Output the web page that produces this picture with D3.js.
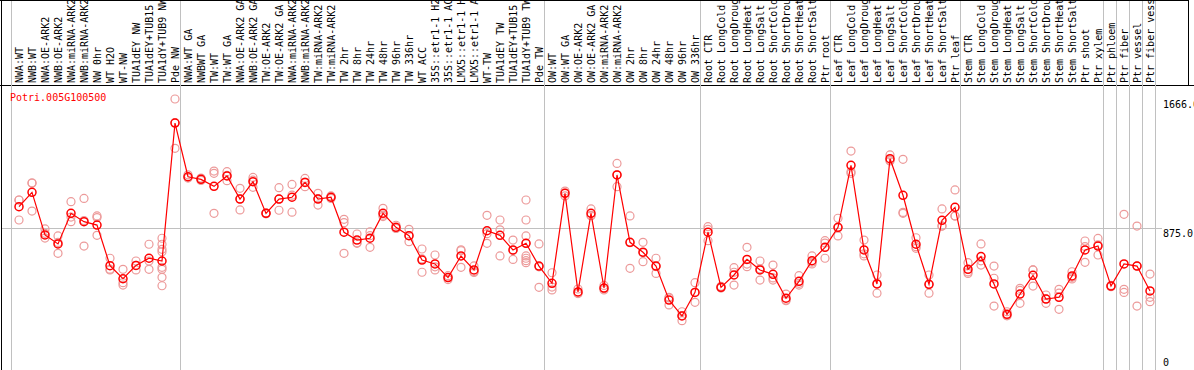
<!DOCTYPE html>
<html>
<head>
  <title>Potri.005G100500</title>
  <script src="https://cdn.jsdelivr.net/npm/d3@7"></script>
  <style>
    body { margin: 0; background: #fff; }
    svg { display: block; }
    text { font-family: "DejaVu Sans Mono", monospace; font-size: 10px; }
  </style>
</head>
<body>
  <div id="chart"></div>
  <script>
    const geneName = "Potri.005G100500";

    const samples = [
      "NWA:WT", "NWB:WT", "NWA:OE-ARK2", "NWB:OE-ARK2", "NWA:miRNA-ARK2", "NWB:miRNA-ARK2",
      "NW 0hr", "WT H2O", "WT-NW", "TUA1dEY NW", "TUA1dEY+TUB15 NW", "TUA1dY+TUB9 NW", "Pde NW",
      "NWA:WT GA", "NWBWT GA", "TW:WT", "TW:WT GA", "NWA:OE-ARK2 GA", "NWB:OE-ARK2 GA",
      "TW:OE-ARK2", "TW:OE-ARK2 GA", "NWA:miRNA-ARK2", "NWB:miRNA-ARK2", "TW:miRNA-ARK2",
      "TW:miRNA-ARK2", "TW 2hr", "TW 8hr", "TW 24hr", "TW 48hr", "TW 96hr", "TW 336hr",
      "WT ACC", "35S::etr1-1 H2O", "35S::etr1-1 ACC", "LMX5::etr1-1 H2O", "LMX5::etr1-1 ACC",
      "WT-TW", "TUA1dEY TW", "TUA1dEY+TUB15 TW", "TUA1dY+TUB9 TW", "Pde TW",
      "OW:WT", "OW:WT GA", "OW:OE-ARK2", "OW:OE-ARK2 GA", "OW:miRNA-ARK2", "OW:miRNA-ARK2",
      "OW 2hr", "OW 8hr", "OW 24hr", "OW 48hr", "OW 96hr", "OW 336hr",
      "Root CTR", "Root LongCold", "Root LongDrought", "Root LongHeat", "Root LongSalt",
      "Root ShortCold", "Root ShortDrought", "Root ShortHeat", "Root ShortSalt", "Ptr root",
      "Leaf CTR", "Leaf LongCold", "Leaf LongDrought", "Leaf LongHeat", "Leaf LongSalt",
      "Leaf ShortCold", "Leaf ShortDrought", "Leaf ShortHeat", "Leaf ShortSalt", "Ptr leaf",
      "Stem CTR", "Stem LongCold", "Stem LongDrought", "Stem LongHeat", "Stem LongSalt",
      "Stem ShortCold", "Stem ShortDrought", "Stem ShortHeat", "Stem ShortSalt",
      "Ptr shoot", "Ptr xylem", "Ptr phloem", "Ptr fiber", "Ptr vessel", "Ptr fiber vessel"
    ];

    // index of the last sample of each block (a divider is drawn after it)
    const groupEnds = [12, 40, 52, 62, 72, 83, 84, 85, 86, 87];

    const means = [
      1004, 1092, 830, 775, 963, 912, 891, 641, 561, 643, 687, 670, 1518,
      1188, 1172, 1129, 1193, 1051, 1158, 963, 1051, 1062, 1153, 1051, 1062, 847, 799, 810,
      963, 877, 826, 676, 652, 568, 701, 615, 856, 828, 738, 779, 639,
      533, 1086, 480, 963, 504, 1199, 785, 724, 639, 430, 332, 477,
      847, 508, 584, 680, 615, 588, 441, 545, 672, 754,
      877, 1258, 738, 529, 1299, 1074, 773, 527, 920, 1000,
      619, 697, 529, 342, 467, 582, 436, 447, 578, 738, 762, 516, 652, 639, 486
    ];

    const replicates = [
      [1045, 1045, 922], [1148, 1151, 977], [867, 811, 840], [824, 717, 784], [1035, 912, 940],
      [1055, 762, 919], [947, 937, 828], [687, 620, 615], [619, 537, 522], [670, 643, 615],
      [773, 619, 670], [810, 773, 742, 727, 631, 619, 570, 518], [1666, 1521, 1363],
      [1200, 1180, 1185], [1180, 1165, 1172], [1223, 1209, 963], [1219, 1164, 1196],
      [1117, 984, 1052], [1184, 1123, 1167], [960, 965, 964], [1121, 982, 1050],
      [1141, 970, 1075], [1178, 1127, 1155], [1086, 1014, 1053], [1070, 1055, 1062],
      [926, 906, 717], [836, 779, 782], [850, 826, 754], [994, 952, 943], [890, 870, 872],
      [865, 826, 789], [744, 601, 683], [707, 615, 634], [580, 568, 556], [733, 631, 739],
      [640, 605, 600], [951, 779, 838], [922, 862, 701], [799, 735, 680],
      [1045, 922, 824, 779, 701, 687, 672, 660], [775, 508, 634],
      [598, 492, 510], [1100, 1070, 1088], [498, 470, 472], [990, 950, 949], [520, 500, 492],
      [1270, 1127, 1200], [947, 625, 783], [785, 666, 721], [687, 594, 636], [447, 400, 443],
      [358, 303, 335], [537, 416, 478],
      [881, 795, 865], [515, 505, 504], [629, 522, 601], [754, 635, 651], [670, 553, 622],
      [645, 553, 566], [467, 430, 426], [580, 522, 533], [701, 652, 663], [795, 687, 780],
      [933, 824, 874], [1346, 1219, 1209], [799, 701, 714], [584, 472, 531], [1322, 1290, 1285],
      [1295, 969, 963], [813, 748, 758], [584, 472, 525], [990, 885, 885], [1107, 947, 946],
      [660, 594, 603], [775, 645, 671], [639, 564, 393], [358, 335, 333], [502, 410, 489],
      [615, 516, 615], [461, 410, 437], [496, 373, 472], [604, 570, 560], [793, 662, 759],
      [809, 707, 770], [520, 512, 516], [957, 496, 477], [885, 393, 639], [590, 447, 420]
    ];

    const yTicks = [0, 875, 1666];
    const yTickLabels = ["0", "875.0", "1666.0"];

    const width = 1194, height = 370;
    const headerBottom = 85;

    const svg = d3.select("#chart").append("svg")
      .attr("width", width).attr("height", height);

    const idx = d3.range(samples.length);
    const x = d3.scalePoint().domain(idx).range([19, 1150]);
    const y = d3.scaleLinear().domain([0, 1666]).range([370, 99]);

    // frame
    svg.append("line").attr("x1", 1.5).attr("x2", 1.5).attr("y1", 0).attr("y2", height)
      .attr("stroke", "#000");
    svg.append("line").attr("x1", 0).attr("x2", 1188).attr("y1", 0.5).attr("y2", 0.5)
      .attr("stroke", "#000");
    svg.append("line").attr("x1", 1188.5).attr("x2", 1188.5).attr("y1", 0).attr("y2", headerBottom)
      .attr("stroke", "#000");
    svg.append("line").attr("x1", 0).attr("x2", width).attr("y1", headerBottom + 0.5).attr("y2", headerBottom + 0.5)
      .attr("stroke", "#000");

    // horizontal grid at the middle tick
    svg.append("line")
      .attr("x1", 2).attr("x2", 1162)
      .attr("y1", Math.round(y(875)) + 0.5).attr("y2", Math.round(y(875)) + 0.5)
      .attr("stroke", "#c0c0c0");

    // group dividers
    const dividers = [x(0) - x.step()].concat(groupEnds.map(i => x(i)));
    svg.selectAll("line.div").data(dividers).join("line")
      .attr("class", "div")
      .attr("x1", d => Math.round(d + 5) + 0.5).attr("x2", d => Math.round(d + 5) + 0.5)
      .attr("y1", 1).attr("y2", height)
      .attr("stroke", "#c0c0c0");

    // sample labels (vertical)
    svg.append("g").selectAll("text").data(idx).join("text")
      .attr("transform", i => `translate(${x(i) + 4},${headerBottom - 2}) rotate(-90)`)
      .attr("fill", "#000")
      .text(i => samples[i]);

    // y tick labels on the right
    svg.append("g").selectAll("text").data(yTicks).join("text")
      .attr("x", 1163)
      .attr("y", d => d === 0 ? y(d) - 4 : y(d) + 2)
      .attr("dominant-baseline", d => d === 0 ? "auto" : "hanging")
      .attr("fill", "#000")
      .text((d, i) => yTickLabels[i]);

    // title
    svg.append("text").attr("x", 10).attr("y", 101).attr("fill", "#f00").text(geneName);

    // replicate points
    const reps = idx.flatMap(i => replicates[i].map(v => ({ i, v })));
    svg.append("g").selectAll("circle").data(reps).join("circle")
      .attr("cx", d => x(d.i)).attr("cy", d => y(d.v)).attr("r", 4)
      .attr("fill", "none").attr("stroke", "#ec9a9a").attr("stroke-width", 1.2);

    // mean line
    const line = d3.line().x((d, i) => x(i)).y(d => y(d));
    svg.append("path").datum(means)
      .attr("d", line).attr("fill", "none").attr("stroke", "#f00").attr("stroke-width", 1.2);

    svg.append("g").selectAll("circle").data(means).join("circle")
      .attr("cx", (d, i) => x(i)).attr("cy", d => y(d)).attr("r", 4)
      .attr("fill", "none").attr("stroke", "#f00").attr("stroke-width", 1.5);
  </script>
</body>
</html>
